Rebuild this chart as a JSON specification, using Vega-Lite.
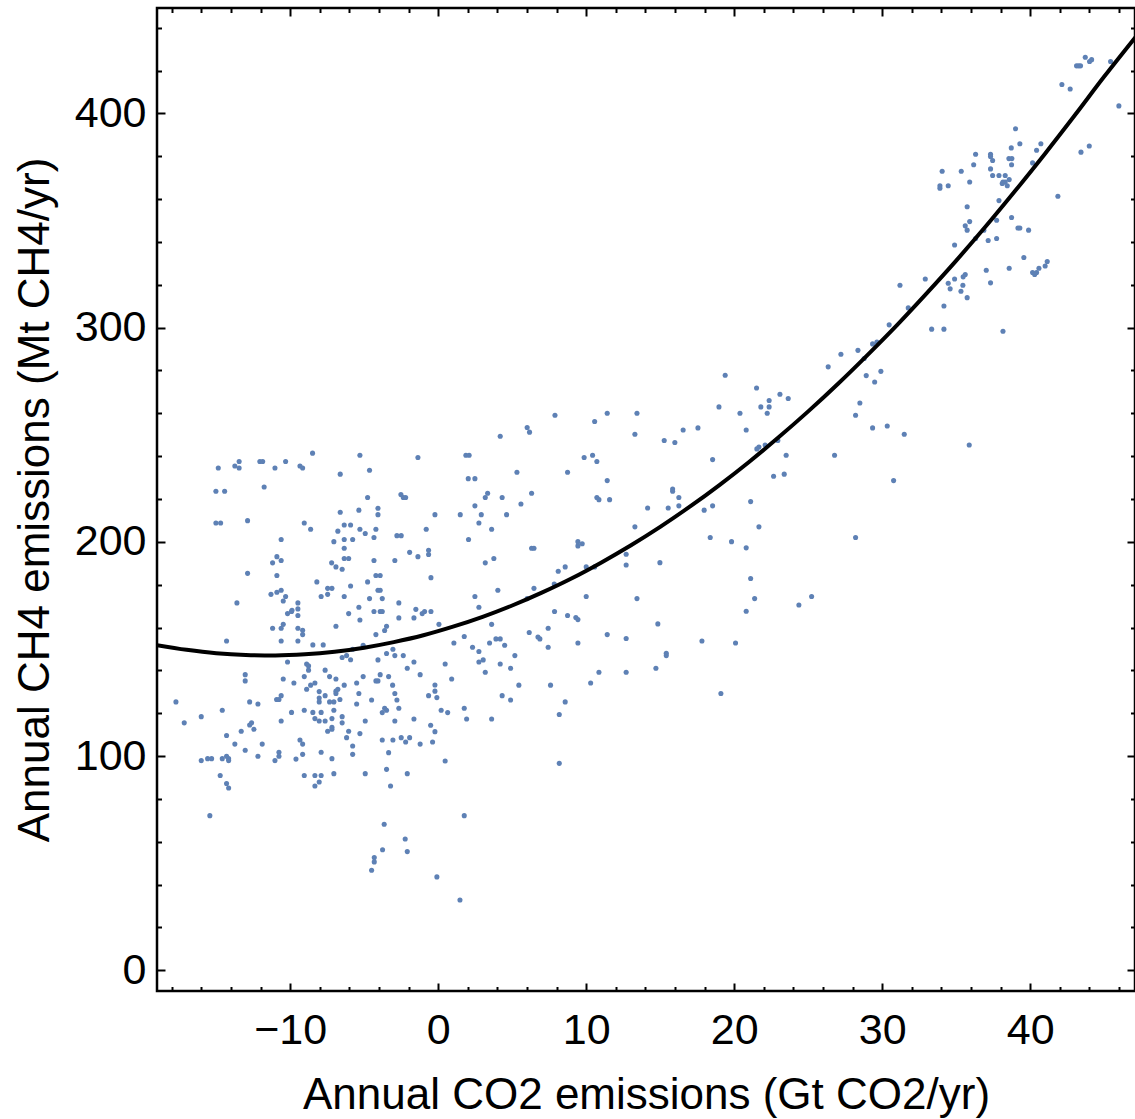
{
"$schema": "https://vega.github.io/schema/vega-lite/v6.json",
"width": 978, "height": 983,
"autosize": {"type": "none"},
"padding": {"left": 157, "top": 8, "right": 0, "bottom": 128},
"background": "white",
"config": {
 "font": "Liberation Sans",
 "view": {"stroke": "black", "strokeWidth": 2.5},
 "axis": {"grid": false, "domain": false, "tickColor": "black", "tickWidth": 2, "labelColor": "black", "labelFont": "Liberation Sans", "titleFont": "Liberation Sans", "titleColor": "black", "titleFontWeight": "normal", "labelFontSize": 43, "titleFontSize": 44}
},
"datasets": {
 "pts": [
 {"co2":-8.49,"ch4":241.4},{"co2":-5.29,"ch4":240.4},{"co2":-14.86,"ch4":234.5},{"co2":-13.74,"ch4":235.4},{"co2":-13.45,"ch4":237.5},{"co2":-13.45,"ch4":234.5},{"co2":-12.05,"ch4":237.5},{"co2":-11.86,"ch4":237.5},{"co2":-11.03,"ch4":234.5},{"co2":-10.31,"ch4":237.5},{"co2":-9.34,"ch4":235.4},{"co2":-9.16,"ch4":234.5},{"co2":-6.62,"ch4":231.6},{"co2":-15.02,"ch4":223.6},{"co2":-14.43,"ch4":223.6},{"co2":-11.76,"ch4":225.6},{"co2":-6.62,"ch4":213.8},{"co2":-5.36,"ch4":214.8},{"co2":-15.02,"ch4":208.8},{"co2":-14.70,"ch4":208.8},{"co2":-12.88,"ch4":209.9},{"co2":-9.05,"ch4":208.8},{"co2":-8.62,"ch4":205.9},{"co2":-6.35,"ch4":207.9},{"co2":-5.92,"ch4":207.9},{"co2":-6.78,"ch4":205.0},{"co2":-5.29,"ch4":205.9},{"co2":-10.61,"ch4":201.1},{"co2":-7.05,"ch4":200.1},{"co2":-6.35,"ch4":201.1},{"co2":-5.78,"ch4":201.1},{"co2":-6.35,"ch4":197.0},{"co2":-10.90,"ch4":193.1},{"co2":-11.19,"ch4":190.2},{"co2":-10.61,"ch4":191.3},{"co2":-6.35,"ch4":192.2},{"co2":-6.05,"ch4":192.2},{"co2":-7.20,"ch4":190.2},{"co2":-6.91,"ch4":188.3},{"co2":-6.49,"ch4":187.2},{"co2":-12.88,"ch4":185.3},{"co2":-10.90,"ch4":184.3},{"co2":-8.20,"ch4":181.3},{"co2":-7.47,"ch4":178.3},{"co2":-7.18,"ch4":178.3},{"co2":-5.92,"ch4":179.4},{"co2":-11.30,"ch4":175.5},{"co2":-10.90,"ch4":176.5},{"co2":-10.61,"ch4":177.4},{"co2":-10.31,"ch4":174.5},{"co2":-10.47,"ch4":172.4},{"co2":-13.60,"ch4":171.5},{"co2":-7.91,"ch4":174.5},{"co2":-7.47,"ch4":175.5},{"co2":-6.35,"ch4":174.5},{"co2":-9.48,"ch4":171.5},{"co2":-9.88,"ch4":168.1},{"co2":-9.48,"ch4":168.7},{"co2":-5.36,"ch4":169.5},
 {"co2":-10.18,"ch4":166.5},{"co2":-9.91,"ch4":167.5},{"co2":-9.48,"ch4":165.6},{"co2":-6.05,"ch4":166.5},{"co2":-5.29,"ch4":163.5},{"co2":-11.19,"ch4":159.7},{"co2":-10.61,"ch4":159.7},{"co2":-10.47,"ch4":161.5},{"co2":-9.48,"ch4":159.7},{"co2":-9.16,"ch4":158.7},{"co2":-9.16,"ch4":156.7},{"co2":-6.91,"ch4":160.6},{"co2":-14.30,"ch4":153.7},{"co2":-10.61,"ch4":153.7},{"co2":-9.48,"ch4":153.7},{"co2":-8.47,"ch4":151.9},{"co2":-7.77,"ch4":151.9},{"co2":-10.18,"ch4":143.9},{"co2":-8.89,"ch4":143.0},{"co2":-8.76,"ch4":142.1},{"co2":-8.76,"ch4":140.1},{"co2":-6.49,"ch4":146.0},{"co2":-6.19,"ch4":146.9},{"co2":-5.92,"ch4":145.0},{"co2":-5.78,"ch4":149.9},{"co2":-13.04,"ch4":138.0},{"co2":-13.04,"ch4":135.1},{"co2":-10.47,"ch4":136.0},{"co2":-9.75,"ch4":134.1},{"co2":-9.05,"ch4":137.1},{"co2":-8.33,"ch4":134.1},{"co2":-8.62,"ch4":133.1},{"co2":-7.64,"ch4":140.1},{"co2":-7.34,"ch4":137.1},{"co2":-6.91,"ch4":136.0},{"co2":-6.35,"ch4":133.1},{"co2":-5.51,"ch4":134.1},{"co2":-8.89,"ch4":131.2},{"co2":-8.04,"ch4":130.1},{"co2":-7.64,"ch4":128.2},{"co2":-8.04,"ch4":127.1},{"co2":-8.04,"ch4":125.3},{"co2":-7.34,"ch4":125.3},{"co2":-7.05,"ch4":125.3},{"co2":-6.91,"ch4":130.3},{"co2":-6.78,"ch4":131.2},{"co2":-6.91,"ch4":129.2},{"co2":-6.64,"ch4":126.4},{"co2":-5.36,"ch4":129.2},{"co2":-17.72,"ch4":125.3},{"co2":-12.74,"ch4":125.3},{"co2":-12.18,"ch4":124.3},{"co2":-10.92,"ch4":126.4},{"co2":-10.76,"ch4":126.4},{"co2":-10.61,"ch4":128.2},{"co2":-14.59,"ch4":121.4},{"co2":-16.01,"ch4":118.4},{"co2":-17.16,"ch4":115.5},{"co2":-9.91,"ch4":120.4},{"co2":-9.05,"ch4":121.4},{"co2":-8.47,"ch4":120.4},{"co2":-7.91,"ch4":120.4},{"co2":-7.05,"ch4":121.4},{"co2":-5.51,"ch4":124.3},{"co2":-8.33,"ch4":117.5},{"co2":-8.04,"ch4":116.4},{"co2":-7.64,"ch4":116.4},{"co2":-7.18,"ch4":117.5},{"co2":-6.49,"ch4":118.4},{"co2":-6.49,"ch4":115.5},{"co2":-10.61,"ch4":116.4},{"co2":-12.74,"ch4":114.5},{"co2":-12.61,"ch4":115.5},{"co2":-12.45,"ch4":112.5},{"co2":-13.31,"ch4":111.6},{"co2":-14.30,"ch4":109.6},{"co2":-13.74,"ch4":105.6},{"co2":-13.04,"ch4":102.7},{"co2":-11.89,"ch4":105.6},{"co2":-9.34,"ch4":107.5},{"co2":-9.16,"ch4":105.6},{"co2":-7.18,"ch4":113.4},{"co2":-7.18,"ch4":112.5},{"co2":-7.47,"ch4":111.6},{"co2":-6.05,"ch4":111.6},{"co2":-6.19,"ch4":108.6},{"co2":-5.78,"ch4":104.7},{"co2":-5.29,"ch4":110.5},{"co2":-5.78,"ch4":100.8},{"co2":-7.91,"ch4":101.8},{"co2":-9.16,"ch4":100.8},{"co2":-9.61,"ch4":98.6},{"co2":-10.76,"ch4":101.8},{"co2":-10.76,"ch4":99.9},{"co2":-11.03,"ch4":97.9},{"co2":-12.18,"ch4":99.9},{"co2":-14.30,"ch4":99.9},{"co2":-14.16,"ch4":98.8},{"co2":-14.16,"ch4":97.9},{"co2":-14.59,"ch4":98.8},{"co2":-16.01,"ch4":97.9},{"co2":-15.58,"ch4":98.8},{"co2":-15.31,"ch4":98.8},{"co2":-7.18,"ch4":98.8},{"co2":-14.73,"ch4":90.9},{"co2":-14.30,"ch4":87.2},{"co2":-14.16,"ch4":85.1},{"co2":-9.05,"ch4":90.9},{"co2":-8.33,"ch4":90.9},{"co2":-7.91,"ch4":90.9},{"co2":-8.04,"ch4":87.9},{"co2":-8.33,"ch4":86.0},{"co2":-7.05,"ch4":91.8},{"co2":-15.43,"ch4":72.2},
 {"co2":6.01,"ch4":253.4},{"co2":6.17,"ch4":251.2},{"co2":4.19,"ch4":249.3},{"co2":-1.37,"ch4":239.4},{"co2":1.87,"ch4":240.4},{"co2":2.09,"ch4":240.4},{"co2":-4.64,"ch4":233.4},{"co2":5.32,"ch4":232.5},{"co2":2.03,"ch4":229.5},{"co2":2.48,"ch4":229.5},{"co2":-4.77,"ch4":220.7},{"co2":-2.52,"ch4":222.1},{"co2":-2.36,"ch4":220.7},{"co2":-2.20,"ch4":220.7},{"co2":3.34,"ch4":222.7},{"co2":3.18,"ch4":220.7},{"co2":4.32,"ch4":220.7},{"co2":6.31,"ch4":222.7},{"co2":5.59,"ch4":217.7},{"co2":-4.07,"ch4":215.7},{"co2":-4.07,"ch4":212.7},{"co2":-0.22,"ch4":212.7},{"co2":1.49,"ch4":212.7},{"co2":2.48,"ch4":216.8},{"co2":2.91,"ch4":212.7},{"co2":4.62,"ch4":212.7},{"co2":2.75,"ch4":208.8},{"co2":-4.21,"ch4":205.9},{"co2":-4.93,"ch4":203.9},{"co2":-4.34,"ch4":202.0},{"co2":-2.79,"ch4":202.9},{"co2":-2.50,"ch4":202.9},{"co2":-0.81,"ch4":205.9},{"co2":3.61,"ch4":205.9},{"co2":2.05,"ch4":201.1},{"co2":6.31,"ch4":197.0},{"co2":6.47,"ch4":197.0},{"co2":-1.93,"ch4":195.1},{"co2":-1.37,"ch4":193.1},{"co2":-0.65,"ch4":196.1},{"co2":-0.65,"ch4":194.1},{"co2":3.76,"ch4":192.2},{"co2":3.18,"ch4":190.2},{"co2":-4.34,"ch4":191.3},{"co2":-2.93,"ch4":191.3},{"co2":-4.21,"ch4":184.3},{"co2":-3.92,"ch4":184.3},{"co2":-0.49,"ch4":183.3},{"co2":-4.77,"ch4":181.3},{"co2":-4.07,"ch4":177.4},{"co2":-3.92,"ch4":177.4},{"co2":-3.78,"ch4":173.5},{"co2":-4.64,"ch4":173.5},{"co2":2.48,"ch4":174.5},{"co2":4.03,"ch4":177.4},{"co2":6.47,"ch4":178.3},{"co2":6.01,"ch4":173.5},{"co2":7.84,"ch4":180.3},{"co2":8.11,"ch4":186.3},
 {"co2":-4.34,"ch4":167.5},{"co2":-3.92,"ch4":167.5},{"co2":-3.78,"ch4":167.5},{"co2":-2.66,"ch4":171.5},{"co2":-1.51,"ch4":168.5},{"co2":-1.64,"ch4":164.5},{"co2":-2.66,"ch4":164.5},{"co2":-1.08,"ch4":166.5},{"co2":-0.92,"ch4":167.5},{"co2":-0.49,"ch4":167.5},{"co2":2.75,"ch4":169.5},{"co2":7.86,"ch4":167.5},{"co2":-3.49,"ch4":160.6},{"co2":-3.62,"ch4":158.6},{"co2":-4.21,"ch4":156.7},{"co2":0.05,"ch4":161.5},{"co2":3.61,"ch4":161.5},{"co2":6.15,"ch4":157.7},{"co2":6.74,"ch4":155.6},{"co2":6.87,"ch4":154.7},{"co2":7.43,"ch4":159.7},{"co2":7.43,"ch4":150.8},{"co2":-5.07,"ch4":151.7},{"co2":-3.06,"ch4":149.9},{"co2":-3.49,"ch4":147.9},{"co2":-2.93,"ch4":146.9},{"co2":-2.36,"ch4":146.9},{"co2":-4.07,"ch4":144.9},{"co2":-1.64,"ch4":143.9},{"co2":-2.09,"ch4":141.0},{"co2":-1.22,"ch4":138.0},{"co2":0.47,"ch4":143.0},{"co2":1.06,"ch4":152.8},{"co2":1.76,"ch4":155.8},{"co2":2.32,"ch4":150.8},{"co2":2.75,"ch4":148.8},{"co2":2.75,"ch4":143.9},{"co2":3.04,"ch4":144.9},{"co2":3.18,"ch4":139.1},{"co2":3.47,"ch4":152.8},{"co2":3.90,"ch4":154.7},{"co2":4.19,"ch4":154.7},{"co2":4.49,"ch4":151.7},{"co2":5.18,"ch4":146.9},{"co2":4.19,"ch4":143.0},{"co2":4.89,"ch4":141.0},{"co2":5.45,"ch4":133.1},{"co2":7.59,"ch4":133.1},{"co2":-5.07,"ch4":137.1},{"co2":-3.92,"ch4":138.0},{"co2":-3.35,"ch4":137.1},{"co2":-4.21,"ch4":135.1},{"co2":-4.07,"ch4":135.1},{"co2":-3.08,"ch4":133.1},{"co2":-2.93,"ch4":129.2},{"co2":-2.79,"ch4":126.2},{"co2":-4.50,"ch4":126.2},{"co2":-2.66,"ch4":122.3},{"co2":-3.62,"ch4":122.3},{"co2":-3.78,"ch4":120.3},{"co2":-3.49,"ch4":121.4},{"co2":-0.65,"ch4":128.2},{"co2":-0.22,"ch4":133.2},{"co2":-0.22,"ch4":130.3},{"co2":-0.09,"ch4":127.3},{"co2":0.91,"ch4":136.0},{"co2":0.20,"ch4":121.4},{"co2":0.64,"ch4":120.3},{"co2":1.76,"ch4":122.3},{"co2":1.92,"ch4":117.3},{"co2":3.61,"ch4":117.3},{"co2":4.32,"ch4":128.2},{"co2":4.89,"ch4":126.2},{"co2":8.18,"ch4":119.4},{"co2":-4.93,"ch4":116.4},{"co2":-2.93,"ch4":116.4},{"co2":-1.64,"ch4":117.3},{"co2":-0.51,"ch4":114.4},{"co2":-0.22,"ch4":111.4},{"co2":-3.78,"ch4":107.5},{"co2":-3.06,"ch4":107.5},{"co2":-2.50,"ch4":108.6},{"co2":-2.20,"ch4":106.6},{"co2":-1.93,"ch4":108.6},{"co2":-1.22,"ch4":105.6},{"co2":-0.38,"ch4":106.6},{"co2":-3.35,"ch4":101.6},{"co2":0.47,"ch4":97.7},{"co2":-3.49,"ch4":93.8},{"co2":-4.93,"ch4":91.8},{"co2":-2.09,"ch4":91.8},{"co2":-3.22,"ch4":86.0},{"co2":8.18,"ch4":96.6},
 {"co2":1.76,"ch4":72.2},{"co2":-3.65,"ch4":68.2},{"co2":-2.23,"ch4":61.3},{"co2":-3.76,"ch4":56.3},{"co2":-2.09,"ch4":55.4},{"co2":-4.32,"ch4":52.6},{"co2":-4.32,"ch4":50.6},{"co2":-4.50,"ch4":46.7},{"co2":-0.09,"ch4":43.6},{"co2":1.47,"ch4":32.8},
 {"co2":27.21,"ch4":287.6},{"co2":26.35,"ch4":281.7},{"co2":19.39,"ch4":277.8},{"co2":21.51,"ch4":271.8},{"co2":23.09,"ch4":268.9},{"co2":23.65,"ch4":266.9},{"co2":22.36,"ch4":266.0},{"co2":21.80,"ch4":263.0},{"co2":22.36,"ch4":263.0},{"co2":22.23,"ch4":260.0},{"co2":20.39,"ch4":260.0},{"co2":18.97,"ch4":263.0},{"co2":11.42,"ch4":260.0},{"co2":13.43,"ch4":260.0},{"co2":7.89,"ch4":259.1},{"co2":10.57,"ch4":256.2},{"co2":17.55,"ch4":253.2},{"co2":16.55,"ch4":252.2},{"co2":20.81,"ch4":252.2},{"co2":13.29,"ch4":250.2},{"co2":15.27,"ch4":247.3},{"co2":15.99,"ch4":246.4},{"co2":22.95,"ch4":247.3},{"co2":22.09,"ch4":245.2},{"co2":21.67,"ch4":244.3},{"co2":21.53,"ch4":243.4},{"co2":23.51,"ch4":240.4},{"co2":26.78,"ch4":240.4},{"co2":18.54,"ch4":238.4},{"co2":9.86,"ch4":239.4},{"co2":10.43,"ch4":240.4},{"co2":10.72,"ch4":237.5},{"co2":8.74,"ch4":232.5},{"co2":11.42,"ch4":228.6},{"co2":22.66,"ch4":230.6},{"co2":23.38,"ch4":231.6},{"co2":15.84,"ch4":224.7},{"co2":15.84,"ch4":223.6},{"co2":16.26,"ch4":220.7},{"co2":10.72,"ch4":220.7},{"co2":10.86,"ch4":219.7},{"co2":11.58,"ch4":219.7},{"co2":21.11,"ch4":218.8},{"co2":18.54,"ch4":216.8},{"co2":16.26,"ch4":216.8},{"co2":15.54,"ch4":215.8},{"co2":14.15,"ch4":215.8},{"co2":17.97,"ch4":214.8},{"co2":13.29,"ch4":207.0},{"co2":21.67,"ch4":207.0},{"co2":18.38,"ch4":202.0},{"co2":19.82,"ch4":200.1},{"co2":20.81,"ch4":197.2},{"co2":9.44,"ch4":200.1},{"co2":9.73,"ch4":199.1},{"co2":9.44,"ch4":198.1},{"co2":12.70,"ch4":194.2},{"co2":12.70,"ch4":189.2},{"co2":14.98,"ch4":190.3},{"co2":8.58,"ch4":188.3},{"co2":10.00,"ch4":188.3},{"co2":10.57,"ch4":188.3},{"co2":21.11,"ch4":182.9},
 {"co2":21.38,"ch4":173.5},{"co2":20.81,"ch4":167.6},{"co2":24.37,"ch4":170.5},{"co2":25.23,"ch4":174.5},{"co2":10.00,"ch4":174.5},{"co2":13.43,"ch4":173.5},{"co2":8.74,"ch4":165.6},{"co2":9.30,"ch4":164.7},{"co2":9.44,"ch4":163.7},{"co2":14.84,"ch4":161.7},{"co2":11.42,"ch4":156.7},{"co2":12.70,"ch4":154.9},{"co2":9.44,"ch4":152.8},{"co2":17.82,"ch4":153.7},{"co2":20.09,"ch4":152.8},{"co2":15.41,"ch4":148.0},{"co2":15.41,"ch4":146.9},{"co2":10.86,"ch4":139.1},{"co2":12.70,"ch4":139.1},{"co2":14.71,"ch4":141.0},{"co2":10.30,"ch4":134.1},{"co2":19.10,"ch4":129.2},{"co2":8.58,"ch4":125.3},
 {"co2":43.72,"ch4":426.2},{"co2":44.01,"ch4":424.2},{"co2":44.15,"ch4":425.1},{"co2":43.13,"ch4":422.2},{"co2":43.27,"ch4":422.2},{"co2":43.40,"ch4":422.2},{"co2":45.43,"ch4":424.2},{"co2":42.14,"ch4":413.5},{"co2":42.70,"ch4":411.4},{"co2":45.99,"ch4":403.5},{"co2":39.01,"ch4":392.8},{"co2":39.30,"ch4":385.8},{"co2":40.72,"ch4":385.8},{"co2":38.72,"ch4":383.9},{"co2":40.43,"ch4":382.8},{"co2":36.31,"ch4":380.9},{"co2":37.32,"ch4":380.9},{"co2":37.32,"ch4":379.9},{"co2":37.46,"ch4":378.0},{"co2":38.56,"ch4":378.9},{"co2":38.76,"ch4":378.9},{"co2":36.18,"ch4":376.0},{"co2":38.74,"ch4":376.0},{"co2":40.16,"ch4":376.9},{"co2":34.05,"ch4":373.0},{"co2":35.34,"ch4":373.0},{"co2":37.32,"ch4":374.1},{"co2":37.46,"ch4":371.0},{"co2":37.89,"ch4":371.0},{"co2":38.31,"ch4":371.0},{"co2":38.16,"ch4":368.0},{"co2":38.31,"ch4":368.0},{"co2":38.58,"ch4":369.1},{"co2":38.45,"ch4":366.2},{"co2":38.11,"ch4":367.3},{"co2":33.90,"ch4":366.2},{"co2":33.90,"ch4":365.1},{"co2":34.46,"ch4":366.2},{"co2":35.91,"ch4":368.0},{"co2":43.43,"ch4":381.9},{"co2":43.99,"ch4":384.8},{"co2":41.87,"ch4":361.3},{"co2":37.89,"ch4":359.3},{"co2":35.74,"ch4":356.4},{"co2":38.74,"ch4":351.4},{"co2":37.73,"ch4":350.1},{"co2":35.91,"ch4":349.5},{"co2":35.61,"ch4":347.5},{"co2":35.74,"ch4":345.5},{"co2":36.87,"ch4":345.5},{"co2":39.17,"ch4":346.5},{"co2":39.30,"ch4":346.5},{"co2":39.89,"ch4":345.5},{"co2":36.31,"ch4":341.6},{"co2":37.16,"ch4":340.7},{"co2":37.73,"ch4":341.6},{"co2":34.89,"ch4":338.6},{"co2":39.57,"ch4":332.7},{"co2":41.15,"ch4":330.9},{"co2":41.01,"ch4":328.8},{"co2":40.59,"ch4":327.7},{"co2":40.16,"ch4":325.7},{"co2":40.30,"ch4":324.8},{"co2":40.43,"ch4":325.7},{"co2":38.58,"ch4":327.7},{"co2":37.03,"ch4":326.8},{"co2":35.61,"ch4":324.8},{"co2":35.47,"ch4":323.7},{"co2":34.89,"ch4":322.7},{"co2":35.45,"ch4":319.8},{"co2":37.32,"ch4":320.9},{"co2":32.91,"ch4":322.7},{"co2":31.20,"ch4":319.8},{"co2":34.46,"ch4":320.7},
 {"co2":34.59,"ch4":318.1},{"co2":35.32,"ch4":317.0},{"co2":35.74,"ch4":314.0},{"co2":34.17,"ch4":310.1},{"co2":31.76,"ch4":309.2},{"co2":30.47,"ch4":301.3},{"co2":33.34,"ch4":299.3},{"co2":34.17,"ch4":299.3},{"co2":38.16,"ch4":298.3},{"co2":29.35,"ch4":292.4},{"co2":29.64,"ch4":293.3},{"co2":28.36,"ch4":289.4},{"co2":28.78,"ch4":285.6},{"co2":29.91,"ch4":279.6},{"co2":28.92,"ch4":277.6},{"co2":29.49,"ch4":274.6},{"co2":28.49,"ch4":264.8},{"co2":28.20,"ch4":259.1},{"co2":29.35,"ch4":253.2},{"co2":30.34,"ch4":254.1},{"co2":31.49,"ch4":250.2},{"co2":35.88,"ch4":245.2},{"co2":30.77,"ch4":228.6},{"co2":28.20,"ch4":202.0}
 ],
 "fit": [
 {"co2":-19,"ch4":151.8},{"co2":-17,"ch4":149.6},{"co2":-15,"ch4":148.0},{"co2":-13,"ch4":147.2},{"co2":-11,"ch4":147.0},{"co2":-9,"ch4":147.5},{"co2":-7,"ch4":148.7},{"co2":-5,"ch4":150.6},{"co2":-3,"ch4":153.2},{"co2":-1,"ch4":156.4},{"co2":1,"ch4":160.4},{"co2":3,"ch4":165.0},{"co2":5,"ch4":170.3},{"co2":7,"ch4":176.3},{"co2":9,"ch4":182.9},{"co2":11,"ch4":190.3},{"co2":13,"ch4":198.3},{"co2":15,"ch4":207.0},{"co2":17,"ch4":216.4},{"co2":19,"ch4":226.5},{"co2":21,"ch4":237.3},{"co2":23,"ch4":248.8},{"co2":25,"ch4":260.9},{"co2":27,"ch4":273.7},{"co2":29,"ch4":287.2},{"co2":31,"ch4":301.2},{"co2":33,"ch4":316.0},{"co2":35,"ch4":331.3},{"co2":37,"ch4":347.3},{"co2":39,"ch4":364.0},{"co2":41,"ch4":381.2},{"co2":43,"ch4":399.0},{"co2":45,"ch4":417.2},{"co2":47.1,"ch4":435.5}
 ]
},
"layer": [
 {"data": {"name": "pts"}, "mark": {"type": "circle", "size": 26, "color": "#5E81B5", "opacity": 1},
  "encoding": {
   "x": {"field": "co2", "type": "quantitative", "scale": {"domain": [-19, 47.08], "nice": false, "zero": false},
     "axis": {"orient": "bottom", "values": [-10,0,10,20,30,40], "tickSize": -8, "labelPadding": 26, "title": "Annual CO2 emissions (Gt CO2/yr)", "titleY": 117, "titleBaseline": "alphabetic"}},
   "y": {"field": "ch4", "type": "quantitative", "scale": {"domain": [-9.66, 449.2], "nice": false, "zero": false},
     "axis": {"orient": "left", "values": [0,100,200,300,400], "tickSize": -8, "labelPadding": 19, "title": "Annual CH4 emissions (Mt CH4/yr)", "titleX": -109, "titleBaseline": "alphabetic"}}
  }},
 {"data": {"name": "fit"}, "mark": {"type": "line", "color": "black", "strokeWidth": 4, "clip": true, "interpolate": "monotone"},
  "encoding": {
   "x": {"field": "co2", "type": "quantitative", "axis": {"orient": "top", "values": [-10,0,10,20,30,40], "tickSize": -8, "labels": false, "title": null}},
   "y": {"field": "ch4", "type": "quantitative", "axis": {"orient": "right", "values": [0,100,200,300,400], "tickSize": -8, "labels": false, "title": null}}
  }},
 {"data": {"name": "fit"}, "mark": {"type": "point", "opacity": 0},
  "encoding": {
   "x": {"field": "co2", "type": "quantitative", "axis": {"orient": "bottom", "values": [-18,-16,-14,-12,-8,-6,-4,-2,2,4,6,8,12,14,16,18,22,24,26,28,32,34,36,38,42,44,46], "tickSize": -4.5, "labels": false, "title": null}},
   "y": {"field": "ch4", "type": "quantitative", "axis": {"orient": "left", "values": [20,40,60,80,120,140,160,180,220,240,260,280,320,340,360,380,420,440], "tickSize": -4.5, "labels": false, "title": null}}
  }},
 {"data": {"name": "fit"}, "mark": {"type": "point", "opacity": 0},
  "encoding": {
   "x": {"field": "co2", "type": "quantitative", "axis": {"orient": "top", "values": [-18,-16,-14,-12,-8,-6,-4,-2,2,4,6,8,12,14,16,18,22,24,26,28,32,34,36,38,42,44,46], "tickSize": -4.5, "labels": false, "title": null}},
   "y": {"field": "ch4", "type": "quantitative", "axis": {"orient": "right", "values": [20,40,60,80,120,140,160,180,220,240,260,280,320,340,360,380,420,440], "tickSize": -4.5, "labels": false, "title": null}}
  }}
],
"resolve": {"axis": {"x": "independent", "y": "independent"}}
}
